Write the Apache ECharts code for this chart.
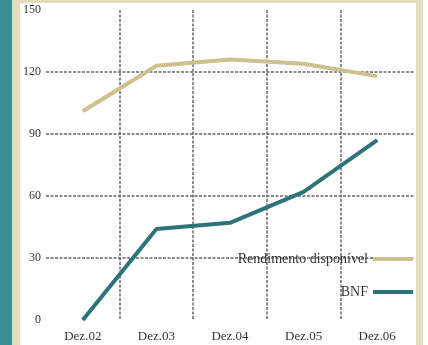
<!DOCTYPE html>
<html>
<head>
<meta charset="utf-8">
<script src="https://cdn.jsdelivr.net/npm/echarts@6/dist/echarts.min.js"></script>
<style>
  html, body { margin: 0; padding: 0; background: #ffffff; }
  #chart { width: 428px; height: 345px; }
</style>
</head>
<body>
<div id="chart"></div>
<script>
// Periods on the horizontal axis
const categories = ['Dez.02', 'Dez.03', 'Dez.04', 'Dez.05', 'Dez.06'];
// Series values
const rendimento = [101, 123, 126, 124, 118];
const bnf = [0, 44, 47, 62, 87];
// Vertical scale
const yMin = 0, yMax = 150, yStep = 30;

const serif = '"Liberation Serif", "DejaVu Serif", serif';
const teal = '#3a8d93';
const beige = '#e4dcbf';
const lineBeige = '#cdbf8e';
const lineTeal = '#2c747a';
const gridStyle = { color: '#666666', width: 1.5, type: [3, 1.5] };

const chart = echarts.init(document.getElementById('chart'), null, { renderer: 'canvas' });
chart.setOption({
  animation: false,
  backgroundColor: '#ffffff',
  graphic: [
    { type: 'rect', shape: { x: 0, y: 0, width: 12, height: 345 }, style: { fill: teal }, z: -10 },
    { type: 'rect', shape: { x: 12, y: 0, width: 8, height: 345 }, style: { fill: beige }, z: -10 },
    { type: 'rect', shape: { x: 12, y: 0, width: 411, height: 3 }, style: { fill: beige }, z: -10 },
    { type: 'rect', shape: { x: 416, y: 0, width: 7, height: 345 }, style: { fill: beige }, z: -10 }
  ],
  grid: { left: 46, right: 14, top: 10, bottom: 25 },
  xAxis: {
    type: 'category',
    data: categories,
    boundaryGap: true,
    axisLine: { show: false },
    axisTick: { show: false },
    axisLabel: { fontFamily: serif, fontSize: 13, color: '#333', margin: 10 },
    splitLine: { show: true, showMinLine: false, showMaxLine: false, lineStyle: gridStyle }
  },
  yAxis: {
    type: 'value',
    min: yMin, max: yMax, interval: yStep,
    axisLine: { show: false },
    axisTick: { show: false },
    axisLabel: { fontFamily: serif, fontSize: 12, color: '#333', margin: 5 },
    splitLine: { show: true, showMinLine: false, showMaxLine: false, lineStyle: gridStyle }
  },
  legend: {
    orient: 'vertical',
    right: 10,
    top: 247,
    align: 'right',
    itemWidth: 40,
    itemHeight: 4,
    itemGap: 19,
    icon: 'rect',
    textStyle: { fontFamily: serif, fontSize: 14, color: '#333' },
    data: ['Rendimento disponível', 'BNF']
  },
  series: [
    {
      name: 'Rendimento disponível',
      type: 'line',
      data: rendimento,
      symbol: 'none',
      itemStyle: { color: lineBeige },
      lineStyle: { color: lineBeige, width: 4 }
    },
    {
      name: 'BNF',
      type: 'line',
      data: bnf,
      symbol: 'none',
      itemStyle: { color: lineTeal },
      lineStyle: { color: lineTeal, width: 4 }
    }
  ]
});
</script>
</body>
</html>
